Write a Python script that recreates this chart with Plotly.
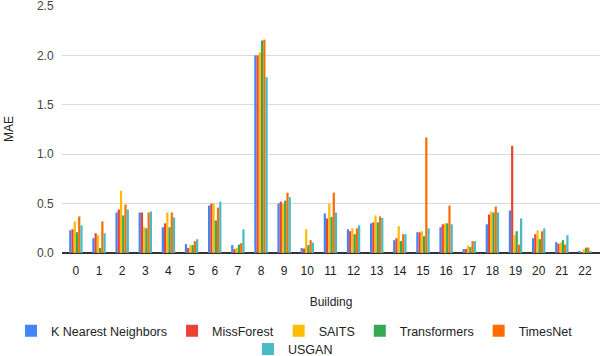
import plotly.graph_objects as go

buildings = [str(i) for i in range(23)]
y_ticks = [0.0, 0.5, 1.0, 1.5, 2.0, 2.5]

knn = [0.23, 0.15, 0.41, 0.41, 0.26, 0.09, 0.48, 0.08, 2.00, 0.50, 0.05, 0.40,
       0.24, 0.30, 0.13, 0.21, 0.26, 0.04, 0.29, 0.43, 0.15, 0.11, 0.02]
missforest = [0.24, 0.20, 0.44, 0.41, 0.30, 0.05, 0.50, 0.04, 2.00, 0.52, 0.045, 0.35,
              0.22, 0.31, 0.15, 0.21, 0.29, 0.04, 0.39, 1.085, 0.19, 0.095, 0.01]
saits = [0.32, 0.18, 0.63, 0.26, 0.41, 0.08, 0.50, 0.05, 2.03, 0.50, 0.24, 0.50,
         0.25, 0.38, 0.27, 0.22, 0.30, 0.075, 0.42, 0.18, 0.23, 0.105, 0.035]
transformers = [0.21, 0.05, 0.38, 0.25, 0.26, 0.08, 0.33, 0.085, 2.15, 0.53, 0.08, 0.365,
                0.19, 0.31, 0.12, 0.17, 0.30, 0.06, 0.41, 0.22, 0.14, 0.13, 0.055]
timesnet = [0.37, 0.32, 0.49, 0.41, 0.41, 0.12, 0.46, 0.10, 2.16, 0.61, 0.13, 0.61,
            0.25, 0.37, 0.19, 1.17, 0.48, 0.12, 0.47, 0.085, 0.22, 0.085, 0.055]
usgan = [0.28, 0.20, 0.44, 0.42, 0.36, 0.14, 0.52, 0.24, 1.78, 0.565, 0.105, 0.41,
         0.28, 0.355, 0.19, 0.25, 0.29, 0.12, 0.41, 0.35, 0.25, 0.18, 0.02]

series = [
    ("K Nearest Neighbors", knn, "#4285F4", "legend"),
    ("MissForest", missforest, "#EA4335", "legend"),
    ("SAITS", saits, "#FBBC04", "legend"),
    ("Transformers", transformers, "#34A853", "legend"),
    ("TimesNet", timesnet, "#FF6D01", "legend"),
    ("USGAN", usgan, "#46BDC6", "legend2"),
]

fig = go.Figure()
for name, vals, color, lg in series:
    fig.add_trace(go.Bar(x=buildings, y=vals, name=name, marker_color=color,
                         marker_line_width=0, legend=lg))

font = "Liberation Sans, Arial, sans-serif"
fig.update_layout(
    width=602, height=356,
    margin=dict(l=62, r=2, t=5, b=103, autoexpand=False),
    paper_bgcolor="white", plot_bgcolor="white",
    font=dict(family=font, size=12, color="#222222"),
    barmode="group", bargap=0.42, bargroupgap=0,
    legend=dict(orientation="h", x=-0.0948, xanchor="left", y=-0.255, yanchor="top",
                font=dict(size=12.5, color="#222222"), bgcolor="rgba(0,0,0,0)",
                itemwidth=30),
    legend2=dict(orientation="h", x=0.3457, xanchor="left", y=-0.328, yanchor="top",
                 font=dict(size=12.5, color="#222222"), bgcolor="rgba(0,0,0,0)"),
)
fig.update_xaxes(type="category", range=[-0.6, 22.65],
                 title=dict(text="Building", standoff=20, font=dict(size=12)),
                 tickfont=dict(size=12, color="#222222"),
                 showgrid=False, showline=False,
                 ticks="outside", ticklen=7, tickcolor="rgba(0,0,0,0)")
fig.update_yaxes(range=[0, 2.51], tickmode="array", tickvals=y_ticks,
                 ticktext=[f"{v:.1f}" for v in y_ticks], ticklabeloverflow="allow",
                 title=dict(text="MAE", font=dict(size=12), standoff=20),
                 gridcolor="#d9d9d9", zeroline=True, zerolinecolor="#333333",
                 zerolinewidth=1.5, tickfont=dict(size=12, color="#444444"),
                 ticks="outside", ticklen=5, tickcolor="rgba(0,0,0,0)")

fig.write_html("out.html", config={"displayModeBar": False},
               post_script="document.body.style.margin='0';")
